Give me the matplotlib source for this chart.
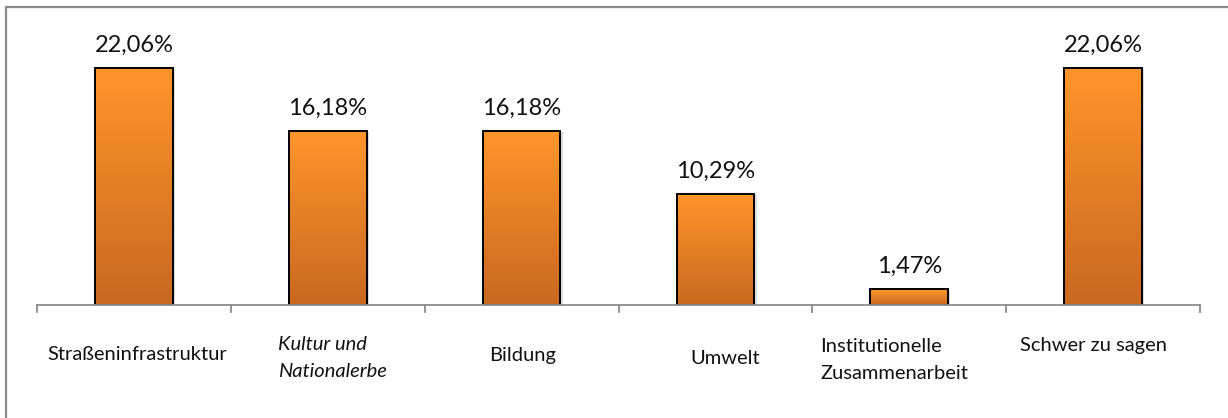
import matplotlib
matplotlib.use("Agg")
import matplotlib.pyplot as plt
import numpy as np
from matplotlib.patches import Rectangle
from matplotlib.colors import LinearSegmentedColormap

categories = ["Straßeninfrastruktur", "Kultur und\nNationalerbe", "Bildung",
              "Umwelt", "Institutionelle\nZusammenarbeit", "Schwer zu sagen"]
values = [22.06, 16.18, 16.18, 10.29, 1.47, 22.06]
value_labels = ["22,06%", "16,18%", "16,18%", "10,29%", "1,47%", "22,06%"]
italic = [False, True, False, False, False, False]

# label placement (offset from category centre in data units, y in pixels, alignment)
label_dx = [0.016, -0.257, 0.003, 0.05, -0.46, -0.05]
label_y = [354, 358, 356, 358, 360, 346]
label_ha = ["center", "left", "center", "center", "left", "center"]

plt.rcParams["font.family"] = ["Lato", "DejaVu Sans"]

W, H = 1228, 418
fig = plt.figure(figsize=(W / 100, H / 100), dpi=100)
fig.patch.set_facecolor("white")

ax_left, ax_right, ax_bottom, ax_top = 37, 1200, 305, 20
ax = fig.add_axes([ax_left / W, 1 - ax_bottom / H,
                   (ax_right - ax_left) / W, (ax_bottom - ax_top) / H])
n = len(categories)
ymax = 22.06 * (ax_bottom - ax_top) / (ax_bottom - 68)
px = ymax / (ax_bottom - ax_top)
ax.set_xlim(0, n)
ax.set_ylim(0, ymax)
ax.axis("off")

cmap = LinearSegmentedColormap.from_list("orange", ["#C96820", "#FF952B"])
grad = np.linspace(0, 1, 256).reshape(-1, 1)
bar_w = 0.4
for i, v in enumerate(values):
    x0 = i + 0.5 - bar_w / 2
    # soft shadow
    ax.add_patch(Rectangle((x0 + 0.012, 0), bar_w, v - 0.08, facecolor="#bbbbbb",
                           edgecolor="none", alpha=0.5, zorder=1))
    rect = Rectangle((x0, 0), bar_w, v, facecolor="none", edgecolor="black",
                     linewidth=1.4, zorder=3)
    ax.add_patch(rect)
    img = ax.imshow(grad, extent=(x0, x0 + bar_w, 0, v), origin="lower",
                    cmap=cmap, aspect="auto", zorder=2, interpolation="bilinear")
    img.set_clip_path(rect)
    ax.text(i + 0.5, v + 23 * px, value_labels[i], ha="center", va="center",
            fontsize=17, color="#111111")

ax.set_xlim(0, n)
ax.set_ylim(0, ymax)

# category axis with boundary ticks
ax.plot([0, n], [0, 0], color="#8c8c8c", lw=1.3, clip_on=False, zorder=4)
tick_len = 7 * px
for k in range(n + 1):
    ax.plot([k, k], [0, -tick_len], color="#8c8c8c", lw=1.3, clip_on=False)

for i, lab in enumerate(categories):
    ax.text(i + 0.5 + label_dx[i], -(label_y[i] - ax_bottom) * px, lab,
            ha=label_ha[i], va="center", fontsize=14.5, linespacing=1.75,
            style="italic" if italic[i] else "normal", color="#111111",
            clip_on=False)

# outer frame
fig.patches.append(Rectangle((6 / W, -0.1), 1.2, 1 - 7 / H + 0.1,
                             transform=fig.transFigure, fill=False,
                             edgecolor="#8a8a8a", linewidth=1.6))

fig.savefig("out.png", dpi=100)
